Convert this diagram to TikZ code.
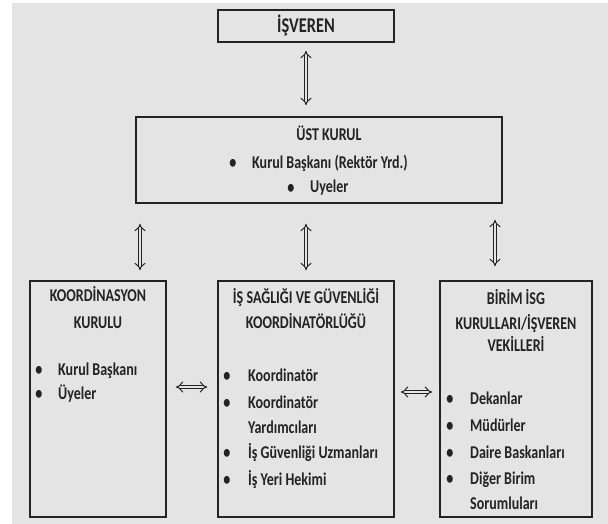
\documentclass[tikz,border=0pt]{standalone}
\usepackage{fontspec}
\setmainfont{Carlito}[FakeStretch=0.78]
\usepackage{tikz}
\usetikzlibrary{arrows.meta}
\definecolor{bggray}{RGB}{228,228,228}
\definecolor{framegray}{RGB}{35,35,35}
\tikzset{
  box/.style={draw=framegray, line width=1.5pt, inner sep=0pt},
  ttl/.style={font=\fontsize{18}{20}\selectfont\bfseries, anchor=base, inner sep=0pt, text=framegray},
  itm/.style={font=\fontsize{18}{20}\selectfont\bfseries, anchor=base west, inner sep=0pt, text=framegray},
  dot/.style={font=\fontsize{22}{24}\selectfont, anchor=base, inner sep=0pt, text=framegray},
  dbl/.style={draw=framegray, double=bggray, double distance=2.8pt, line width=1pt, {Implies[scale=2.2]}-{Implies[scale=2.2]}}
}

\begin{document}
\begin{tikzpicture}[x=1pt, y=-1pt]
                \useasboundingbox (0,0) rectangle (608,524);
                \fill[white] (0,0) rectangle (608,524);
                \fill[bggray] (12,3) rectangle (608,524);

                % boxes
                \node[box, minimum width=176pt, minimum height=32pt] (isveren) at (306,26) {};
                \node[box, minimum width=366pt, minimum height=86pt] (ust) at (319,160) {};
                \node[box, minimum width=136pt, minimum height=236pt] (koord) at (98,399) {};
                \node[box, minimum width=176pt, minimum height=236pt] (isg) at (306,399) {};
                \node[box, minimum width=152pt, minimum height=236pt] (birim) at (516,399) {};

                % top
                \node[ttl, font=\fontsize{21}{24}\selectfont\bfseries] (isvttl) at (306,33) {İŞVEREN};

                \node[ttl] (ustttl) at (329,141) {ÜST KURUL};
                \node[dot] (ustd1) at (233,170) {•};
                \node[itm] (usti1) at (252,169) {Kurul Başkanı (Rektör Yrd.)};
                \node[dot] (ustd2) at (291,194) {•};
                \node[itm] (usti2) at (310,193) {Uyeler};

                % left
                \node[ttl] (koordttl1) at (98,301) {KOORDİNASYON};
                \node[ttl] (koordttl2) at (98,328) {KURULU};
                \node[dot] (koordd1) at (39,376) {•};
                \node[itm] (koordi1) at (58,375) {Kurul Başkanı};
                \node[dot] (koordd2) at (39,400) {•};
                \node[itm] (koordi2) at (58,399) {Üyeler};

                % middle
                \node[ttl] (isgttl1) at (306,303) {İŞ SAĞLIĞI VE GÜVENLİĞİ};
                \node[ttl] (isgttl2) at (306,328) {KOORDİNATÖRLÜĞÜ};
                \node[dot] (isgd1) at (227,382) {•};
                \node[itm] (isgi1) at (248,381) {Koordinatör};
                \node[dot] (isgd2) at (227,409) {•};
                \node[itm] (isgi2) at (248,408) {Koordinatör};
                \node[itm] (isgi2b) at (248,433) {Yardımcıları};
                \node[dot] (isgd3) at (227,459) {•};
                \node[itm] (isgi3) at (248,458) {İş Güvenliği Uzmanları};
                \node[dot] (isgd4) at (227,486) {•};
                \node[itm] (isgi4) at (248,485) {İş Yeri Hekimi};

                % right
                \node[ttl] (birimttl1) at (516,304) {BİRİM İSG};
                \node[ttl] (birimttl2) at (516,329) {KURULLARI/İŞVEREN};
                \node[ttl] (birimttl3) at (516,351) {VEKİLLERİ};
                \node[dot] (birimd1) at (450,405) {•};
                \node[itm] (birimi1) at (470,404) {Dekanlar};
                \node[dot] (birimd2) at (450,432) {•};
                \node[itm] (birimi2) at (470,431) {Müdürler};
                \node[dot] (birimd3) at (450,459) {•};
                \node[itm] (birimi3) at (470,458) {Daire Baskanları};
                \node[dot] (birimd4) at (450,485) {•};
                \node[itm] (birimi4) at (470,484) {Diğer Birim};
                \node[itm] (birimi4b) at (470,509) {Sorumluları};

                % arrows
                \draw[dbl, shorten <=8pt, shorten >=11pt] (isveren.south) -- (ust.north -| isveren.south);
                \draw[dbl, shorten <=20pt, shorten >=10pt] (ust.south -| 140,0) -- (koord.north -| 140,0);
                \draw[dbl, shorten <=20pt, shorten >=10pt] (ust.south -| isg.north) -- (isg.north);
                \draw[dbl, shorten <=16pt, shorten >=14pt] (ust.south -| 495,0) -- (birim.north -| 495,0);
                \draw[dbl, shorten <=9pt, shorten >=10pt] (koord.east |- 0,387) -- (isg.west |- 0,387);
                \draw[dbl, shorten <=6pt, shorten >=7pt] (isg.east |- 0,392) -- (birim.west |- 0,392);

            \end{tikzpicture}
\end{document}
